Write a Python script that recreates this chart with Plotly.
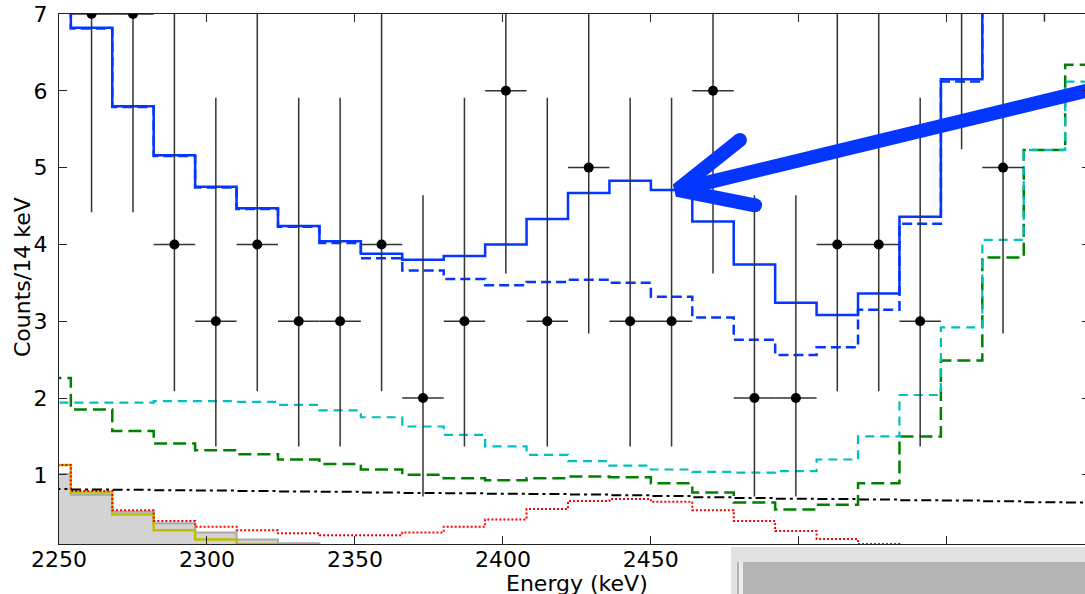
import plotly.graph_objects as go

# ---------------- data ----------------
BIN_EDGES = [2240, 2254, 2268, 2282, 2296, 2310, 2324, 2338, 2352, 2366, 2380, 2394, 2408,
             2422, 2436, 2450, 2464, 2478, 2492, 2506, 2520, 2534, 2548, 2562, 2576, 2590, 2604]

TOTAL = [7.9, 6.82, 5.80, 5.16, 4.75, 4.47, 4.24, 4.04, 3.88, 3.80, 3.85, 4.00, 4.33,
         4.67, 4.83, 4.71, 4.30, 3.74, 3.24, 3.08, 3.36, 4.36, 6.15, 8.1, 9.6, 10.5]
BKG_TOTAL = [7.9, 6.81, 5.79, 5.15, 4.74, 4.46, 4.23, 4.02, 3.82, 3.66, 3.55, 3.47, 3.51,
             3.54, 3.50, 3.32, 3.05, 2.76, 2.56, 2.66, 3.15, 4.27, 6.12, 8.0, 9.5, 10.4]
CYAN_COMP = [1.94, 1.94, 1.94, 1.96, 1.96, 1.95, 1.91, 1.84, 1.75, 1.63, 1.52, 1.37, 1.26,
             1.18, 1.12, 1.07, 1.04, 1.03, 1.05, 1.20, 1.50, 2.04, 2.92, 4.06, 5.23, 6.12]
GREEN_COMP = [2.26, 1.85, 1.57, 1.41, 1.32, 1.27, 1.20, 1.14, 1.07, 1.00, 0.955, 0.93, 0.955,
              0.98, 0.97, 0.89, 0.77, 0.64, 0.55, 0.61, 0.89, 1.50, 2.49, 3.83, 5.23, 6.34]
FLAT_COMP = [0.815, 0.81, 0.805, 0.80, 0.795, 0.79, 0.785, 0.78, 0.77, 0.765, 0.76, 0.755, 0.75,
             0.745, 0.735, 0.725, 0.71, 0.70, 0.69, 0.685, 0.68, 0.67, 0.665, 0.655, 0.645, 0.64]
RED_COMP = [1.13, 0.79, 0.54, 0.40, 0.325, 0.28, 0.24, 0.215, 0.215, 0.25, 0.325, 0.42, 0.555,
            0.66, 0.685, 0.65, 0.54, 0.40, 0.27, 0.165, 0.10, 0.05, 0.02, 0.01, 0.0, 0.0]
YELLOW_COMP = [1.13, 0.77, 0.485, 0.28, 0.16, 0.10, 0.06, 0.03, 0.01, 0.0, 0.0, 0.0, 0.0,
               0.0, 0.0, 0.0, 0.0, 0.0, 0.0, 0.0, 0.0, 0.0, 0.0, 0.0, 0.0, 0.0]
GRAY_COMP = [1.01, 0.74, 0.52, 0.37, 0.25, 0.16, 0.11, 0.07, 0.04, 0.02, 0.01, 0.0, 0.0,
             0.0, 0.0, 0.0, 0.0, 0.0, 0.0, 0.0, 0.0, 0.0, 0.0, 0.0, 0.0, 0.0]

DATA_E = [2261, 2275, 2289, 2303, 2317, 2331, 2345, 2359, 2373, 2387, 2401, 2415,
          2429, 2443, 2457, 2471, 2485, 2499, 2513, 2527, 2541, 2555, 2569, 2583]
DATA_COUNTS = [7, 7, 4, 3, 4, 3, 3, 4, 2, 3, 6, 3, 5, 3, 3, 6, 2, 2, 4, 4, 3, 8, 5, 10]
ERR_HI = [3.78, 3.78, 3.18, 2.91, 3.18, 2.91, 2.91, 3.18, 2.64, 2.91, 3.60, 2.91,
          3.29, 2.91, 2.91, 3.60, 2.64, 2.64, 3.18, 3.18, 2.91, 3.94, 3.29, 4.27]
ERR_LO = [2.58, 2.58, 1.91, 1.63, 1.91, 1.63, 1.63, 1.91, 1.28, 1.63, 2.38, 1.63,
          2.16, 1.63, 1.63, 2.38, 1.28, 1.28, 1.91, 1.91, 1.63, 2.76, 2.16, 3.10]
ERR_E = [7] * len(DATA_E)

X_TICKS = [2250, 2300, 2350, 2400, 2450, 2500, 2550]
Y_TICKS = [1, 2, 3, 4, 5, 6, 7]
X_RANGE = [2250, 2596.7]
Y_RANGE = [0.1, 7]

# arrow annotation (energy, counts)
ARROW_TIP = (2458.9, 4.71)
ARROW_HEAD_A = (2480.1, 5.36)
ARROW_HEAD_B = (2485.2, 4.51)
ARROW_TAIL = (2610.0, 6.12)

FONT = "DejaVu Sans"
BLUE = "#0536ff"


def step(vals):
    return vals + [vals[-1]]


fig = go.Figure()

fig.add_trace(go.Scatter(x=BIN_EDGES, y=step(GRAY_COMP), mode="lines", line_shape="hv",
                         fill="tozeroy", fillcolor="#d3d3d3",
                         line=dict(color="#a9a9a9", width=2), hoverinfo="skip"))
fig.add_trace(go.Scatter(x=BIN_EDGES, y=step(YELLOW_COMP), mode="lines", line_shape="hv",
                         line=dict(color="#bfbf00", width=2.5)))
fig.add_trace(go.Scatter(x=BIN_EDGES, y=step(RED_COMP), mode="lines", line_shape="hv",
                         line=dict(color="#ff0000", width=2, dash="2px,2px")))
fig.add_trace(go.Scatter(x=BIN_EDGES, y=step(FLAT_COMP), mode="lines", line_shape="hv",
                         line=dict(color="#000000", width=2, dash="10px,4px,3px,4px")))
fig.add_trace(go.Scatter(x=BIN_EDGES, y=step(GREEN_COMP), mode="lines", line_shape="hv",
                         line=dict(color="#008000", width=2.5, dash="13px,6px")))
fig.add_trace(go.Scatter(x=BIN_EDGES, y=step(CYAN_COMP), mode="lines", line_shape="hv",
                         line=dict(color="#00bfbf", width=2.2, dash="9px,6px")))
fig.add_trace(go.Scatter(x=BIN_EDGES, y=step(BKG_TOTAL), mode="lines", line_shape="hv",
                         line=dict(color=BLUE, width=2.5, dash="10px,5px")))
fig.add_trace(go.Scatter(x=BIN_EDGES, y=step(TOTAL), mode="lines", line_shape="hv",
                         line=dict(color=BLUE, width=2.5)))

fig.add_trace(go.Scatter(
    x=DATA_E, y=DATA_COUNTS, mode="markers",
    marker=dict(color="black", size=10),
    error_y=dict(type="data", symmetric=False, array=ERR_HI, arrayminus=ERR_LO,
                 color="#333333", thickness=1.5, width=0),
    error_x=dict(type="data", array=ERR_E, color="#333333", thickness=1.5, width=0),
))

# arrow (annotation drawn in data space)
fig.add_trace(go.Scatter(x=[ARROW_HEAD_A[0], ARROW_TIP[0], ARROW_HEAD_B[0]],
                         y=[ARROW_HEAD_A[1], ARROW_TIP[1], ARROW_HEAD_B[1]],
                         mode="lines", line=dict(color=BLUE, width=14)))
fig.add_trace(go.Scatter(x=[ARROW_TIP[0], ARROW_TAIL[0]], y=[ARROW_TIP[1], ARROW_TAIL[1]],
                         mode="lines", line=dict(color=BLUE, width=14)))
fig.add_trace(go.Scatter(x=[ARROW_HEAD_A[0], ARROW_HEAD_B[0]], y=[ARROW_HEAD_A[1], ARROW_HEAD_B[1]],
                         mode="markers", marker=dict(color=BLUE, size=14, line=dict(width=0))))

# right-side ticks only
fig.add_trace(go.Scatter(x=[], y=[], yaxis="y2"))

fig.update_layout(
    width=1085, height=594,
    margin=dict(l=59, r=0, t=14, b=50),
    paper_bgcolor="white", plot_bgcolor="white",
    showlegend=False,
    font=dict(family=FONT, size=22, color="black"),
    xaxis=dict(range=X_RANGE, tickvals=X_TICKS, ticktext=[str(v) for v in X_TICKS],
               ticks="inside", ticklen=8, tickwidth=1, tickcolor="#222222",
               showline=True, linecolor="#222222", linewidth=1.2, mirror="ticks",
               showgrid=False, zeroline=False, ticklabelstandoff=-5,
               tickfont=dict(family=FONT, size=22, color="black")),
    yaxis=dict(range=Y_RANGE, tickvals=Y_TICKS, ticktext=[str(v) for v in Y_TICKS],
               ticks="inside", ticklen=8, tickwidth=1, tickcolor="#222222",
               showline=True, linecolor="#222222", linewidth=1.2, mirror=False,
               showgrid=False, zeroline=False, ticklabelstandoff=6,
               tickfont=dict(family=FONT, size=22, color="black")),
    yaxis2=dict(range=Y_RANGE, tickvals=Y_TICKS, overlaying="y", side="right", anchor="x",
                ticks="inside", ticklen=3, tickwidth=1, tickcolor="#222222",
                showline=False, showgrid=False, zeroline=False, showticklabels=False),
    annotations=[
        dict(text="Energy (keV)", xref="paper", yref="paper", x=(577 - 59) / 1026,
             y=(544 - 583) / 530, xanchor="center", yanchor="middle", showarrow=False,
             font=dict(family=FONT, size=22, color="black")),
        dict(text="Counts/14 keV", xref="paper", yref="paper", x=(22 - 59) / 1026,
             y=(544 - 277) / 530, xanchor="center", yanchor="middle", textangle=-90,
             showarrow=False, font=dict(family=FONT, size=22, color="black")),
    ],
    shapes=[
        dict(type="rect", xref="paper", yref="paper", x0=(731 - 59) / 1026, x1=1.01,
             y0=(544 - 547) / 530, y1=-0.12, fillcolor="#e2e2e2", line=dict(width=0),
             layer="above"),
        dict(type="rect", xref="paper", yref="paper", x0=(737 - 59) / 1026, x1=1.01,
             y0=(544 - 562) / 530, y1=-0.12, fillcolor="#b4b4b4", line=dict(width=0),
             layer="above"),
        dict(type="rect", xref="paper", yref="paper", x0=(739 - 59) / 1026, x1=(743 - 59) / 1026,
             y0=(544 - 562) / 530, y1=-0.12, fillcolor="#ececec", line=dict(width=0),
             layer="above"),
    ],
)

fig.write_html("out.html")
